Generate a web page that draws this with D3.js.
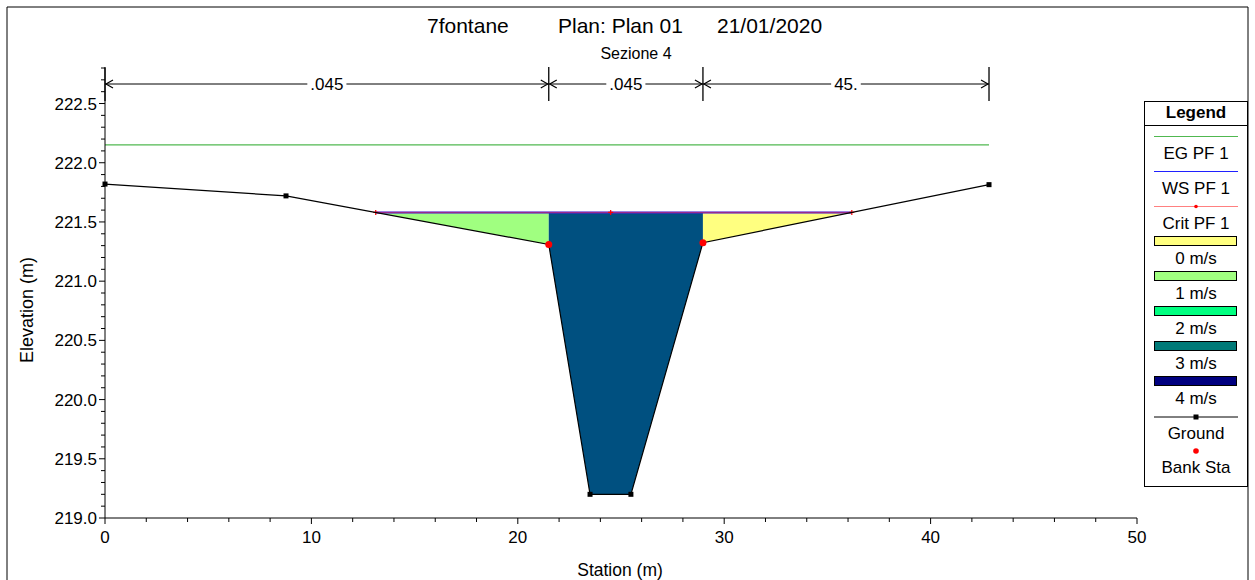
<!DOCTYPE html>
<html><head><meta charset="utf-8">
<script src="https://cdn.jsdelivr.net/npm/d3@7"></script>
<style>body{margin:0;background:#fff}svg{display:block}text{font-family:"Liberation Sans",Arial,sans-serif;fill:#000}</style>
</head><body><svg id="c" width="1255" height="580"></svg>
<script>
// ---- data ----
const groundSta  = [0, 8.77, 21.5, 23.5, 25.48, 28.97, 42.83];
const groundElev = [221.82, 221.72, 221.31, 219.2, 219.2, 221.325, 221.815];
const bankSta  = [21.5, 28.97];
const bankElev = [221.31, 221.325];
const wsElev = 221.58;
const critElev = 221.58;
const critMarkSta = [24.5];
const egElev = 222.15;
const egSta = [0, 42.83];
const nBounds = [0, 21.5, 28.97, 42.83];
const nLabels = [".045", ".045", "45."];
const subColors = ["#a0ff80", "#005080", "#ffff80"];
const xTicks = [0, 10, 20, 30, 40, 50];
const yTicks = [219.0, 219.5, 220.0, 220.5, 221.0, 221.5, 222.0, 222.5];
const legendLines = ["EG PF 1", "WS PF 1", "Crit PF 1"];
const legendVel = ["0 m/s", "1 m/s", "2 m/s", "3 m/s", "4 m/s"];
const legendVelColors = ["#ffff80", "#a0ff80", "#00ff80", "#007a78", "#000080"];
const titleParts = ["7fontane", "Plan: Plan 01", "21/01/2020"];
const subtitle = "Sezione 4";

const svg = d3.select("#c");
const x = d3.scaleLinear().domain([0, 50]).range([105, 1137]);
const y = d3.scaleLinear().domain([219, 222.8]).range([518, 68]);

// frame
svg.append("path").attr("d","M7,585 V7 H1248 V585").attr("fill","none").attr("stroke","#000").attr("stroke-width",1);

// title
const tX = [427, 558, 717];
titleParts.forEach((t,i)=>svg.append("text").attr("x",tX[i]).attr("y",33).attr("font-size",21).text(t));
svg.append("text").attr("x",636).attr("y",59).attr("text-anchor","middle").attr("font-size",16).text(subtitle);

// ground interpolation
const gPts = groundSta.map((s,i)=>[s, groundElev[i]]);
function crossings(level){
  const out=[];
  for(let i=0;i<gPts.length-1;i++){
    const [s0,e0]=gPts[i],[s1,e1]=gPts[i+1];
    if((e0-level)*(e1-level)<0){ out.push(s0+(level-e0)/(e1-e0)*(s1-s0)); }
  }
  return out;
}
const cr = crossings(wsElev);
const wsL = cr[0], wsR = cr[cr.length-1];
function elevAt(s){
  for(let i=0;i<gPts.length-1;i++){
    const [s0,e0]=gPts[i],[s1,e1]=gPts[i+1];
    if(s>=s0 && s<=s1) return e0+(s-s0)/(s1-s0)*(e1-e0);
  }
  return null;
}
// velocity fills per subsection
const subB = [wsL, bankSta[0], bankSta[1], wsR];
for(let k=0;k<3;k++){
  const a=subB[k], b=subB[k+1];
  const pts=[[a,wsElev]];
  pts.push([a, Math.min(wsElev, elevAt(a))]);
  gPts.forEach(p=>{ if(p[0]>a && p[0]<b) pts.push(p); });
  pts.push([b, Math.min(wsElev, elevAt(b))]);
  pts.push([b, wsElev]);
  svg.append("path").attr("d", d3.line().x(d=>x(d[0])).y(d=>y(d[1]))(pts)+"Z")
    .attr("fill", subColors[k]).attr("stroke","none");
}

// EG line
svg.append("line").attr("x1",x(egSta[0])).attr("x2",x(egSta[1])).attr("y1",y(egElev)).attr("y2",y(egElev))
  .attr("stroke","#50b850").attr("stroke-width",1.2);
// WS
svg.append("line").attr("x1",x(wsL)).attr("x2",x(wsR)).attr("y1",y(wsElev)).attr("y2",y(wsElev))
  .attr("stroke","#2020ff").attr("stroke-width",2);
// Crit
svg.append("line").attr("x1",x(wsL)).attr("x2",x(wsR)).attr("y1",y(critElev)).attr("y2",y(critElev))
  .attr("stroke","#ff3030").attr("stroke-width",1.6).attr("stroke-opacity",0.55);
[wsL, ...critMarkSta, wsR].forEach(s=>{
  svg.append("path").attr("d",`M${x(s)-2.5},${y(critElev)}h5M${x(s)},${y(critElev)-2.5}v5`)
    .attr("stroke","#ff0000").attr("stroke-width",1.2);
});

// ground
svg.append("path").attr("d", d3.line().x(d=>x(d[0])).y(d=>y(d[1]))(gPts))
  .attr("fill","none").attr("stroke","#000").attr("stroke-width",1.2);
gPts.forEach(p=>{
  if(bankSta.includes(p[0])) return;
  svg.append("rect").attr("x",x(p[0])-2.5).attr("y",y(p[1])-2.5).attr("width",5).attr("height",5).attr("fill","#000");
});
bankSta.forEach((s,i)=>svg.append("circle").attr("cx",x(s)).attr("cy",y(bankElev[i])).attr("r",3.5).attr("fill","#ff0000"));

// axes
const ax = svg.append("g").attr("stroke","#000").attr("fill","none");
ax.append("line").attr("x1",x(0)).attr("x2",x(50)).attr("y1",y(219)).attr("y2",y(219));
ax.append("line").attr("x1",x(0)).attr("x2",x(0)).attr("y1",y(219)).attr("y2",y(222.8));
d3.range(0,51,2).forEach(v=>{
  const maj = xTicks.includes(v);
  ax.append("line").attr("x1",x(v)).attr("x2",x(v)).attr("y1",y(219)).attr("y2",y(219)+(maj?6:4));
});
d3.range(0,39,1).map(i=>219+i*0.1).forEach(v=>{
  const maj = yTicks.some(t=>Math.abs(t-v)<1e-6);
  ax.append("line").attr("x1",x(0)).attr("x2",x(0)-(maj?6:4)).attr("y1",y(v)).attr("y2",y(v));
});
xTicks.forEach(v=>svg.append("text").attr("x",x(v)).attr("y",543).attr("text-anchor","middle").attr("font-size",17).text(v));
yTicks.forEach(v=>svg.append("text").attr("x",97).attr("y",y(v)+6).attr("text-anchor","end").attr("font-size",17).text(v.toFixed(1)));
svg.append("text").attr("x",620).attr("y",576).attr("text-anchor","middle").attr("font-size",17.5).text("Station (m)");
svg.append("text").attr("transform","translate(33,310) rotate(-90)").attr("text-anchor","middle").attr("font-size",18).text("Elevation (m)");

// Manning's n annotations
const aY = 84;
nBounds.forEach(s=>svg.append("line").attr("x1",x(s)).attr("x2",x(s)).attr("y1",67).attr("y2",101).attr("stroke","#000").attr("stroke-width",1.3));
nLabels.forEach((lab,i)=>{
  const a=x(nBounds[i]), b=x(nBounds[i+1]), m=(a+b)/2;
  const t = svg.append("text").attr("x",m).attr("y",aY+6).attr("text-anchor","middle").attr("font-size",17).text(lab);
  const w = t.node().getComputedTextLength();
  svg.append("line").attr("x1",a).attr("x2",m-w/2-3).attr("y1",aY).attr("y2",aY).attr("stroke","#000");
  svg.append("line").attr("x1",m+w/2+3).attr("x2",b).attr("y1",aY).attr("y2",aY).attr("stroke","#000");
  svg.append("path").attr("d",`M${a+8},${aY-4}L${a+1},${aY}L${a+8},${aY+4}M${b-8},${aY-4}L${b-1},${aY}L${b-8},${aY+4}`)
    .attr("fill","none").attr("stroke","#000").attr("stroke-width",1.2);
});

// legend
const L = svg.append("g");
L.append("rect").attr("x",1144.5).attr("y",101.5).attr("width",103).attr("height",385).attr("fill","#fff").attr("stroke","#000");
L.append("line").attr("x1",1144.5).attr("x2",1248).attr("y1",125.5).attr("y2",125.5).attr("stroke","#000");
L.append("text").attr("x",1196).attr("y",118).attr("text-anchor","middle").attr("font-size",17).attr("font-weight","bold").text("Legend");
const lx1=1154, lx2=1238, cx=1196;
L.append("line").attr("x1",lx1).attr("x2",lx2).attr("y1",136.5).attr("y2",136.5).attr("stroke","#50b850");
L.append("line").attr("x1",lx1).attr("x2",lx2).attr("y1",171.5).attr("y2",171.5).attr("stroke","#2020ff");
L.append("line").attr("x1",lx1).attr("x2",lx2).attr("y1",206.5).attr("y2",206.5).attr("stroke","#ff8080");
L.append("circle").attr("cx",cx).attr("cy",206.5).attr("r",1.8).attr("fill","#ff0000");
legendLines.forEach((t,i)=>L.append("text").attr("x",cx).attr("y",159+i*35).attr("text-anchor","middle").attr("font-size",17).text(t));
legendVel.forEach((t,i)=>{
  L.append("rect").attr("x",1154.5).attr("y",236.5+i*35).attr("width",82).attr("height",9).attr("fill",legendVelColors[i]).attr("stroke","#000");
  L.append("text").attr("x",cx).attr("y",264+i*35).attr("text-anchor","middle").attr("font-size",17).text(t);
});
L.append("line").attr("x1",lx1).attr("x2",lx2).attr("y1",417).attr("y2",417).attr("stroke","#000");
L.append("rect").attr("x",cx-2.5).attr("y",414.5).attr("width",5).attr("height",5).attr("fill","#000");
L.append("text").attr("x",cx).attr("y",439).attr("text-anchor","middle").attr("font-size",17).text("Ground");
L.append("circle").attr("cx",cx).attr("cy",451).attr("r",2.8).attr("fill","#ff0000");
L.append("text").attr("x",cx).attr("y",473).attr("text-anchor","middle").attr("font-size",17).text("Bank Sta");
</script></body></html>
